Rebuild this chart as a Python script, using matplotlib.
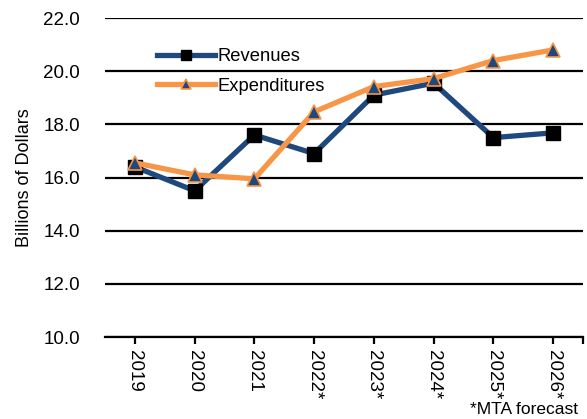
import matplotlib
matplotlib.use("Agg")
import matplotlib.pyplot as plt

plt.rcParams['font.family'] = ['Liberation Sans', 'DejaVu Sans']

# data (billions of dollars)
years = ['2019', '2020', '2021', '2022*', '2023*', '2024*', '2025*', '2026*']
revenues = [16.4, 15.5, 17.6, 16.9, 19.1, 19.55, 17.5, 17.68]
expenditures = [16.55, 16.1, 15.95, 18.47, 19.42, 19.72, 20.4, 20.8]
yticks = [10.0, 12.0, 14.0, 16.0, 18.0, 20.0, 22.0]

blue = '#1F497D'
orange = '#F79646'

fig = plt.figure(figsize=(5.87, 4.19), dpi=100)
ax = fig.add_axes([105 / 587, 1 - 337 / 419, 478 / 587, 319 / 419])

x = list(range(len(years)))

# gridlines
for y in yticks:
    ax.axhline(y, color='black', lw=1.6, zorder=1)

ax.plot(x, revenues, color=blue, lw=3.8, marker='s', markersize=10,
        markerfacecolor='black', markeredgecolor='black', label='Revenues', zorder=3)
ax.plot(x, expenditures, color=orange, lw=3.8, marker='^', markersize=10,
        markerfacecolor=blue, markeredgecolor=orange, markeredgewidth=1.2,
        label='Expenditures', zorder=4)

ax.set_xlim(-0.5, 7.5)
ax.set_ylim(10, 22)
ax.set_yticks(yticks)
ax.set_yticklabels(['%.1f' % v for v in yticks], fontsize=13.5)
ax.tick_params(axis='y', length=0, pad=18)

ax.set_xticks(x)
ax.set_xticklabels(years, rotation=270, fontsize=13.5, va='top', ha='center')
ax.set_xticks([7.5], minor=True)
ax.tick_params(axis='x', which='both', length=5, width=1.6, color='black', pad=4)

for s in ['top', 'right', 'left']:
    ax.spines[s].set_visible(False)
ax.spines['bottom'].set_linewidth(1.6)
ax.spines['bottom'].set_zorder(2)

ax.set_ylabel('Billions of Dollars', fontsize=13)
ax.yaxis.set_label_coords(-0.15, 0.5)

ax.legend(loc='upper left', bbox_to_anchor=(0.109, 0.905), frameon=False,
          fontsize=13.2, handlelength=3.17, handletextpad=0.1, borderpad=0,
          labelspacing=0.68, borderaxespad=0, markerscale=0.7)

fig.text(578 / 587, 1 - 409 / 419, '*MTA forecast', fontsize=12.5,
         ha='right', va='center')

fig.savefig('out.png', dpi=100)
